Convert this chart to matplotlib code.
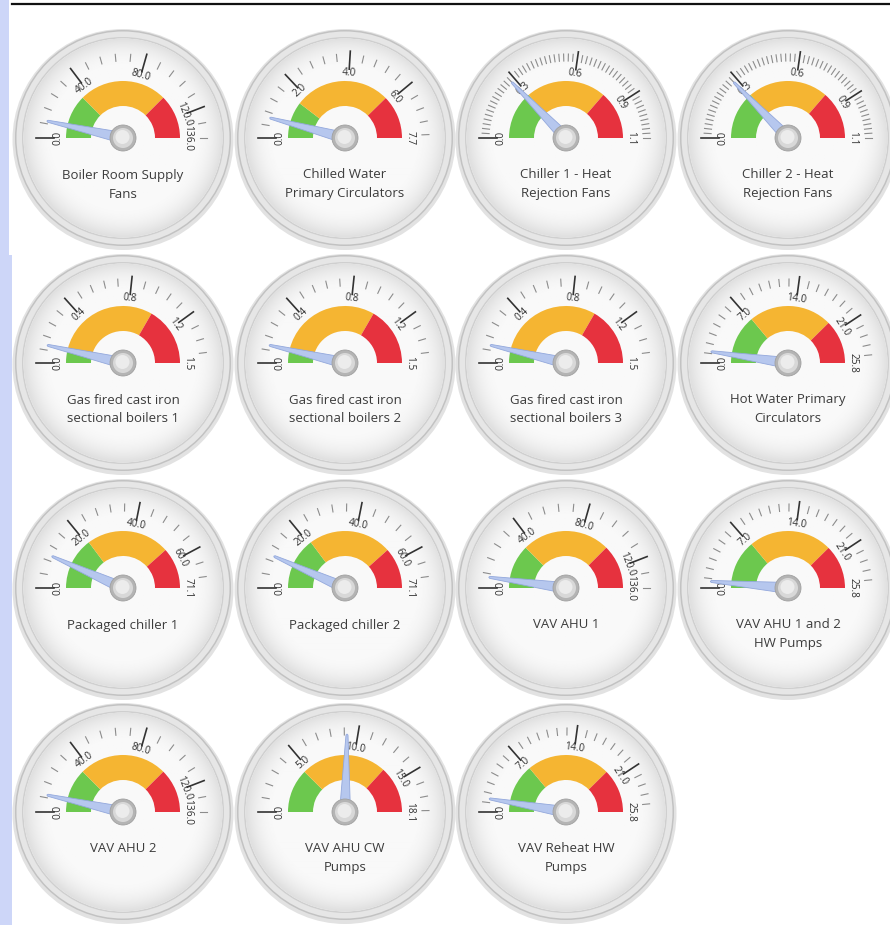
import numpy as np
import matplotlib
matplotlib.use("Agg")
import matplotlib.pyplot as plt
from matplotlib.patches import Circle, Wedge, Polygon, Rectangle

plt.rcParams['font.family'] = ['Open Sans', 'DejaVu Sans']

# gauge data
titles = [
    "Boiler Room Supply\nFans", "Chilled Water\nPrimary Circulators",
    "Chiller 1 - Heat\nRejection Fans", "Chiller 2 - Heat\nRejection Fans",
    "Gas fired cast iron\nsectional boilers 1", "Gas fired cast iron\nsectional boilers 2",
    "Gas fired cast iron\nsectional boilers 3", "Hot Water Primary\nCirculators",
    "Packaged chiller 1", "Packaged chiller 2", "VAV AHU 1",
    "VAV AHU 1 and 2\nHW Pumps", "VAV AHU 2", "VAV AHU CW\nPumps",
    "VAV Reheat HW\nPumps",
]
max_vals = [136.0, 7.7, 1.1, 1.1, 1.5, 1.5, 1.5, 25.8, 71.1, 71.1, 136.0, 25.8, 136.0, 18.1, 25.8]
major_steps = [40, 2, 0.3, 0.3, 0.4, 0.4, 0.4, 7, 20, 20, 40, 7, 40, 5, 7]
minor_steps = [8, 0.4, 0.02, 0.02, 0.08, 0.08, 0.08, 1, 4, 4, 8, 1, 8, 1, 1]
green_end = [34, 1.6, 0.3, 0.3, 0.12, 0.12, 0.12, 7.2, 21, 21, 34, 7.2, 34, 4.5, 7.2]
red_start = [102, 5.8, 0.8, 0.8, 1.0, 1.0, 1.0, 19.4, 54.6, 54.6, 102, 19.4, 102, 13.3, 19.4]
values = [9.5, 0.64, 0.28, 0.28, 0.11, 0.11, 0.11, 1.2, 9.5, 9.5, 6.0, 0.7, 9.5, 9.2, 1.4]

W, H = 890, 925
col_x = [123, 345, 566, 788]
row_y = [138, 363, 588, 812]
R = 115

fig = plt.figure(figsize=(W / 100, H / 100), dpi=100)
fig.patch.set_facecolor('white')

# page decoration: left band and top rule
bg = fig.add_axes([0, 0, 1, 1])
bg.set_xlim(0, W)
bg.set_ylim(H, 0)
bg.axis('off')
bg.add_patch(Rectangle((0, 0), 9, 255, fc='#cdd6f8', ec='none'))
bg.add_patch(Rectangle((0, 255), 12, H - 255, fc='#cdd6f8', ec='none'))
bg.plot([12, W], [4, 4], color='#111111', lw=1.6)

# radial shading for the dial face
yy, xx = np.mgrid[-1:1:200j, -1:1:200j]
rr = np.sqrt(xx ** 2 + yy ** 2)
face_shade = 0.975 - 0.10 * np.clip((rr - 0.7) / 0.3, 0, 1) ** 2 - 0.015 * (yy < 0) * 0


def ang(v, vmax):
    return 180.0 - 180.0 * v / vmax


def polar(r, a):
    t = np.radians(a)
    return r * np.cos(t), r * np.sin(t)


for i, title in enumerate(titles):
    row, col = i // 4, i % 4
    cx, cy = col_x[col], row_y[row]
    ax = fig.add_axes([(cx - R) / W, 1 - (cy + R) / H, 2 * R / W, 2 * R / H])
    ax.set_xlim(-R, R)
    ax.set_ylim(-R, R)
    ax.axis('off')
    vmax = max_vals[i]

    # body
    ax.add_patch(Circle((0, -1.5), 110.5, fc='#d6d6d6', ec='none', alpha=0.7, zorder=1))
    ax.add_patch(Circle((0, 0), 108, fc='#c2c2c2', ec='none', zorder=1))
    ax.add_patch(Circle((0, 0), 106.5, fc='#e6e6e6', ec='none', zorder=1))
    ax.add_patch(Circle((0, 0), 101, fc='#cfcfcf', ec='none', zorder=1))
    face = Circle((0, 0), 99.5, fc='#f7f7f7', ec='none', zorder=1)
    ax.add_patch(face)
    im = ax.imshow(face_shade, extent=[-99.5, 99.5, -99.5, 99.5], cmap='gray',
                   vmin=0, vmax=1, zorder=1.5, interpolation='bilinear')
    im.set_clip_path(face)

    # colour bands
    g = ang(green_end[i], vmax)
    r_ = ang(red_start[i], vmax)
    ax.add_patch(Wedge((0, 0), 57, g, 180, width=25, fc='#6cc84e', ec='none', zorder=2))
    ax.add_patch(Wedge((0, 0), 57, r_, g, width=25, fc='#f5b532', ec='none', zorder=2))
    ax.add_patch(Wedge((0, 0), 57, 0, r_, width=25, fc='#e6323e', ec='none', zorder=2))

    # ticks
    majors = np.arange(0, vmax + 1e-9, major_steps[i])
    minors = np.arange(0, vmax + 1e-9, minor_steps[i])
    for v in minors:
        if np.min(np.abs(majors - v)) < minor_steps[i] * 0.3:
            continue
        a = ang(v, vmax)
        x0, y0 = polar(77, a)
        x1, y1 = polar(84, a)
        ax.plot([x0, x1], [y0, y1], color='#8c8c8c', lw=0.8, zorder=3)
    for v in majors:
        a = ang(v, vmax)
        x0, y0 = polar(69, a)
        x1, y1 = polar(87, a)
        ax.plot([x0, x1], [y0, y1], color='#333333', lw=1.2, zorder=3)
        tx, ty = polar(65, a)
        ax.text(tx, ty, f"{v:.1f}", rotation=a - 90, ha='center', va='center',
                fontsize=7.3, color='#303030', rotation_mode='anchor', zorder=4)
    tx, ty = polar(65, 0)
    ax.text(tx, ty, f"{vmax:.1f}", rotation=-90, ha='center', va='center',
            fontsize=7.3, color='#303030', rotation_mode='anchor', zorder=4)

    # needle
    a = ang(values[i], vmax)
    t = np.radians(a)
    d = np.array([np.cos(t), np.sin(t)])
    n = np.array([-np.sin(t), np.cos(t)])
    pts = [5.5 * n, d * 77 + n * 1.0, d * 78, d * 77 - n * 1.0, -5.5 * n]
    ax.add_patch(Polygon(pts, closed=True, fc='#b6c7ee', ec='#93a8dc', lw=0.6, zorder=5))

    # hub
    ax.add_patch(Circle((0, 0), 13, fc='#b4b4b4', ec='#a0a0a0', lw=0.6, zorder=6))
    ax.add_patch(Circle((0, 0), 10, fc='#d8d8d8', ec='none', zorder=6))
    ax.add_patch(Circle((-0.5, 1), 7, fc='#ececec', ec='none', zorder=6))

    # name
    for k, line in enumerate(title.split('\n')):
        ax.text(0, -37 - 19 * k, line, ha='center', va='center',
                fontsize=9.5, color='#3c3c3c', zorder=4)

fig.savefig("out.png", dpi=100)
plt.close(fig)
